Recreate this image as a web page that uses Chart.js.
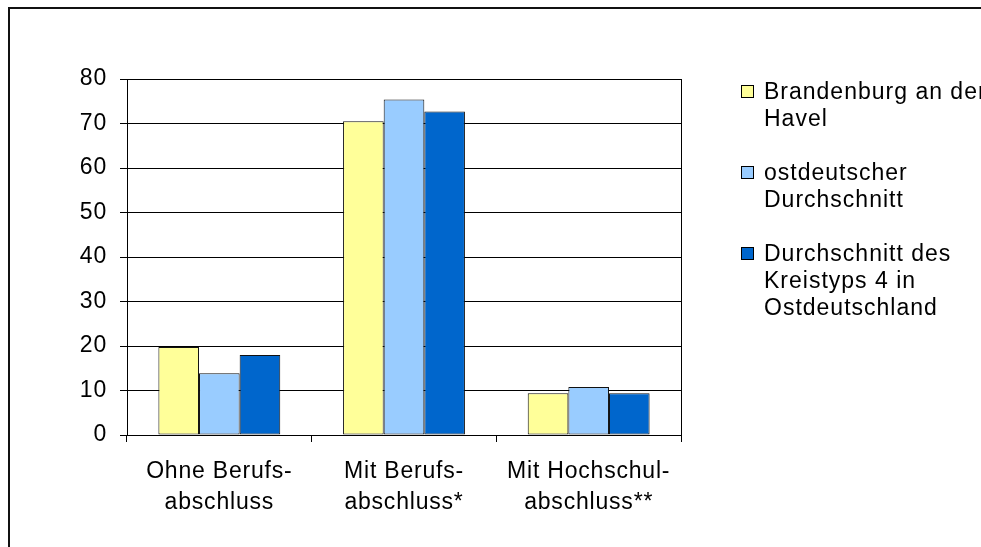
<!DOCTYPE html>
<html>
<head>
<meta charset="utf-8">
<script src="https://cdn.jsdelivr.net/npm/chart.js@4.4.0/dist/chart.umd.min.js"></script>
<style>
    html, body { margin: 0; padding: 0; background: #fff; overflow: hidden; }
    body { width: 981px; height: 547px; position: relative; font-family: 'Liberation Sans', Arial, sans-serif; }
    #frame { position: absolute; left: 8px; top: 7px; width: 1100px; height: 700px;
             border-left: 2px solid #111; border-top: 2px solid #111; }
    #chart { position: absolute; left: 0; top: 0; }
    #legend { position: absolute; left: 741px; top: 78px; white-space: nowrap; }
    .item { position: relative; padding-left: 23px; font-size: 23px; line-height: 27px;
            letter-spacing: 1px; color: #000; margin-bottom: 27px; }
    .box { position: absolute; left: 0; top: 7px; width: 11px; height: 11px; border: 1px solid #000; }
</style>
</head>
<body>
<div id="frame"></div>
<canvas id="chart" width="981" height="547"></canvas>
<div id="legend"></div>
<script>
// categories (two-line axis labels)
const categories = [
    ['Ohne Berufs-', 'abschluss'],
    ['Mit Berufs-', 'abschluss*'],
    ['Mit Hochschul-', 'abschluss**']
];

// series, legend text split the way the original wraps it
const seriesLines = [
    ['Brandenburg an der', 'Havel'],
    ['ostdeutscher', 'Durchschnitt'],
    ['Durchschnitt des', 'Kreistyps 4 in', 'Ostdeutschland']
];
const seriesColors = ['#FFFF99', '#99CCFF', '#0066CC'];

// values in percent
const brandenburg = [19.8, 70.5, 9.4];
const ostDurchschnitt = [13.9, 75.4, 10.8];
const kreistyp4 = [18.0, 72.7, 9.4];

const yTicks = [0, 10, 20, 30, 40, 50, 60, 70, 80];

const seriesValues = [brandenburg, ostDurchschnitt, kreistyp4];
const font = { family: "'Liberation Sans', Arial, sans-serif", size: 23 };

// the original renderer spaces its letters a little wider
const wideText = {
    id: 'wideText',
    beforeDraw(chart) { chart.ctx.letterSpacing = '0.8px'; }
};

// frame round the plot area
const plotBorder = {
    id: 'plotBorder',
    afterDatasetsDraw(chart) {
        const a = chart.chartArea;
        const c = chart.ctx;
        c.save();
        c.strokeStyle = '#000';
        c.lineWidth = 1;
        c.strokeRect(Math.round(a.left) + 0.5, Math.round(a.top) + 0.5,
                     Math.round(a.right - a.left), Math.round(a.bottom - a.top));
        c.restore();
    }
};

new Chart(document.getElementById('chart'), {
    type: 'bar',
    data: {
        labels: categories,
        datasets: seriesValues.map((vals, i) => ({
            label: seriesLines[i].join(' '),
            data: vals,
            backgroundColor: seriesColors[i],
            borderColor: '#111',
            borderWidth: 1,
            borderSkipped: false,
            barPercentage: 1,
            categoryPercentage: 0.66
        }))
    },
    options: {
        responsive: false,
        animation: false,
        layout: { padding: { left: 0, top: 79, right: 300, bottom: 12 } },
        plugins: { legend: { display: false }, tooltip: { enabled: false } },
        scales: {
            x: {
                afterFit: (s) => { s.height = 100; },
                grid: { offset: true, drawOnChartArea: false, color: '#000', tickLength: 7 },
                border: { color: '#000' },
                ticks: { color: '#000', padding: 14, font: { ...font, lineHeight: 1.35 } }
            },
            y: {
                min: 0,
                max: 80,
                afterFit: (s) => { s.width = 127; },
                afterBuildTicks: (s) => { s.ticks = yTicks.map(v => ({ value: v })); },
                grid: { color: '#000', tickLength: 7 },
                border: { color: '#000' },
                ticks: { color: '#000', padding: 13, font: font }
            }
        }
    },
    plugins: [wideText, plotBorder]
});

// legend built from the same series arrays
const legend = document.getElementById('legend');
seriesLines.forEach((lines, i) => {
    const item = document.createElement('div');
    item.className = 'item';
    const box = document.createElement('span');
    box.className = 'box';
    box.style.background = seriesColors[i];
    item.appendChild(box);
    item.appendChild(document.createTextNode(lines[0]));
    lines.slice(1).forEach(t => {
        item.appendChild(document.createElement('br'));
        item.appendChild(document.createTextNode(t));
    });
    legend.appendChild(item);
});
</script>
</body>
</html>
